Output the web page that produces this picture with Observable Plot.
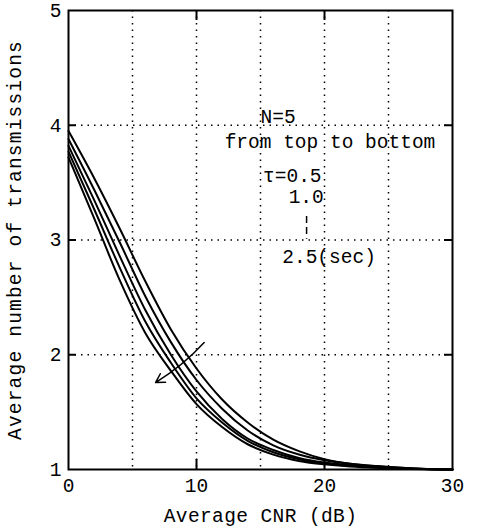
<!DOCTYPE html>
<html>
<head>
<meta charset="utf-8">
<script src="https://cdn.jsdelivr.net/npm/d3@7"></script>
<script src="https://cdn.jsdelivr.net/npm/@observablehq/plot@0.6"></script>
<style>
  html, body { margin: 0; padding: 0; background: #fff; }
  #chart svg g[aria-label="y-axis label"] text { letter-spacing: 1.2px; }
  #chart svg g[aria-label="x-axis label"] text { letter-spacing: 0.4px; }
</style>
</head>
<body>
<div id="chart"></div>
<script>
// Average CNR (dB)
const cnr = [0, 2, 4, 6, 8, 10, 12, 14, 16, 18, 20, 22, 24, 26, 28, 30];
// tau values (sec), from top to bottom
const taus = ["0.5", "1.0", "1.5", "2.0", "2.5"];
// Average number of transmissions for each tau
const tau05 = [3.95, 3.54, 3.10, 2.64, 2.22, 1.88, 1.61, 1.41, 1.26, 1.16, 1.09, 1.05, 1.03, 1.015, 1.005, 1.0];
const tau10 = [3.88, 3.44, 2.98, 2.51, 2.11, 1.78, 1.53, 1.34, 1.21, 1.13, 1.08, 1.05, 1.03, 1.015, 1.005, 1.0];
const tau15 = [3.82, 3.35, 2.86, 2.39, 2.00, 1.68, 1.44, 1.27, 1.17, 1.10, 1.06, 1.037, 1.021, 1.01, 1.004, 1.0];
const tau20 = [3.77, 3.27, 2.76, 2.29, 1.93, 1.62, 1.41, 1.25, 1.15, 1.09, 1.053, 1.032, 1.018, 1.008, 1.003, 1.0];
const tau25 = [3.72, 3.19, 2.65, 2.19, 1.86, 1.57, 1.37, 1.22, 1.13, 1.075, 1.045, 1.027, 1.015, 1.007, 1.002, 1.0];
const series = [tau05, tau10, tau15, tau20, tau25];

// axis ticks and grid
const xTicks = [0, 10, 20, 30];
const xGrid = [5, 10, 15, 20, 25];
const yTicks = [1, 2, 3, 4, 5];
const yGrid = [2, 3, 4];
const xInner = [10, 20];

// annotations (data coordinates)
const notes = [
  {x: 15.0, y: 4.07, text: "N=5"},
  {x: 12.2, y: 3.86, text: "from top to bottom"},
  {x: 15.2, y: 3.56, text: "τ=0.5"},
  {x: 17.2, y: 3.38, text: "1.0"},
  {x: 16.7, y: 2.85, text: "2.5(sec)"}
];
const dots = [{x: 18.6, y1: 3.21, y2: 3.01}];
const arrowPos = [{x1: 10.6, y1: 2.107, x2: 6.8, y2: 1.758}];

const rows = [];
taus.forEach((t, i) => cnr.forEach((c, j) => rows.push({tau: t, cnr: c, n: series[i][j]})));

const font = "'Liberation Mono', 'DejaVu Sans Mono', monospace";

const chart = Plot.plot({
  width: 480,
  height: 530,
  marginLeft: 68,
  marginRight: 28,
  marginTop: 10,
  marginBottom: 61,
  style: {fontFamily: font, fontSize: "19.5px", color: "black", background: "white"},
  x: {domain: [0, 30], label: "Average CNR (dB)"},
  y: {domain: [1, 5], label: "Average number of transmissions"},
  marks: [
    Plot.ruleX(xGrid, {stroke: "black", strokeWidth: 1.5, strokeDasharray: "1.5,5"}),
    Plot.ruleY(yGrid, {stroke: "black", strokeWidth: 1.5, strokeDasharray: "1.5,5"}),
    Plot.tickX(xInner, {x: d => d, stroke: "black", strokeWidth: 2, insetTop: 449}),
    Plot.tickX(xInner, {x: d => d, stroke: "black", strokeWidth: 2, insetBottom: 449}),
    Plot.tickY(yGrid, {y: d => d, stroke: "black", strokeWidth: 2, insetRight: 376}),
    Plot.tickY(yGrid, {y: d => d, stroke: "black", strokeWidth: 2, insetLeft: 376}),
    Plot.frame({stroke: "black", strokeWidth: 2}),
    Plot.axisX({ticks: xTicks, tickSize: 0, tickPadding: 9, tickFormat: d => String(d),
      label: "Average CNR (dB)", labelAnchor: "center", labelArrow: "none", labelOffset: 52}),
    Plot.axisY({ticks: yTicks, tickSize: 0, tickPadding: 7, tickFormat: d => String(d),
      label: "Average number of transmissions", labelAnchor: "center", labelArrow: "none", labelOffset: 61}),
    Plot.line(rows, {x: "cnr", y: "n", z: "tau", stroke: "black", strokeWidth: 2, curve: "monotone-x"}),
    Plot.arrow(arrowPos, {x1: "x1", y1: "y1", x2: "x2", y2: "y2", bend: 8, stroke: "black", strokeWidth: 1.5, headLength: 10}),
    Plot.link(dots, {x1: "x", x2: "x", y1: "y1", y2: "y2", stroke: "black", strokeWidth: 1.5, strokeDasharray: "7,4"}),
    Plot.text(notes, {x: "x", y: "y", text: "text", textAnchor: "start", fontSize: 19.5, fill: "black"})
  ]
});
document.getElementById("chart").appendChild(chart);
</script>
</body>
</html>
